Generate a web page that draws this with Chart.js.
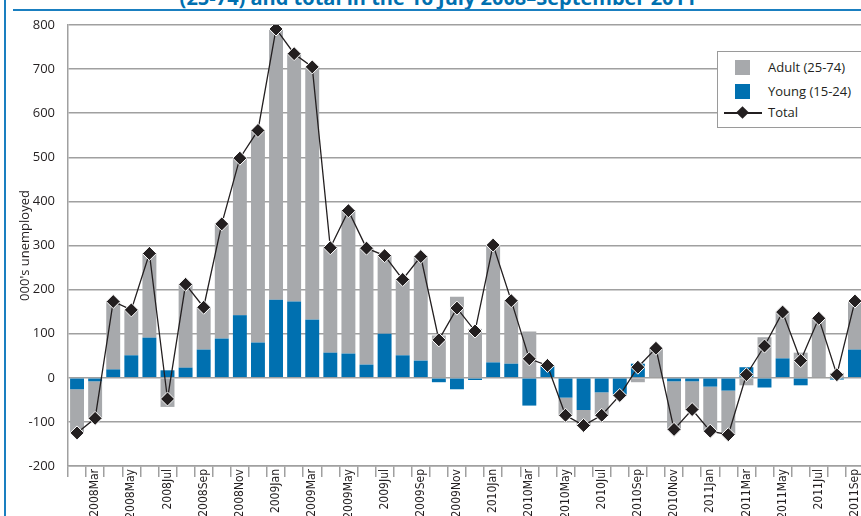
<!DOCTYPE html>
<html>
<head>
<meta charset="utf-8">
<script src="https://cdn.jsdelivr.net/npm/chart.js"></script>
<style>
  html, body { margin: 0; padding: 0; background: #fff; overflow: hidden; width: 861px; height: 516px; }
  #wrap { position: absolute; left: 0; top: 0; width: 880px; height: 526px; }
  #title { position: absolute; left: 0; width: 876px; top: -16px; text-align: center;
    font: bold 20px "Open Sans", sans-serif; color: #0070b0; white-space: nowrap; }
  #rule { position: absolute; left: 13px; right: 0; top: 9px; height: 2px; background: #1a7fc0; }
  #side { position: absolute; left: 4px; top: 0; bottom: 0; width: 2px; background: #1a7fc0; }
  #legend { position: absolute; left: 717px; top: 51px; width: 160px; height: 75px;
    background: #fff; border: 1px solid #9a9a9a; font: 13px "Open Sans", sans-serif; color: #231f20; }
  .row { position: absolute; left: 0; height: 18px; line-height: 18px; }
  .sw { position: absolute; left: 17px; top: 1px; width: 15px; height: 15px; }
  .lab { position: absolute; left: 50px; top: -1px; white-space: nowrap; }
  .ln { position: absolute; left: 6px; top: 8px; width: 38px; height: 1.5px; background: #231f20; }
  .dm { position: absolute; left: 20px; top: 4px; width: 9px; height: 9px; background: #231f20; transform: rotate(45deg); }
</style>
</head>
<body>
<div id="title">(25-74) and total in the 16 July 2008–September 2011</div>
<div id="rule"></div>
<div id="side"></div>
<div id="wrap"><canvas id="chart"></canvas></div>
<div id="legend">
  <div class="row" style="top:7px;width:160px"><div class="sw" style="background:#a7a9ac"></div><div class="lab">Adult (25-74)</div></div>
  <div class="row" style="top:31px;width:160px"><div class="sw" style="background:#0070b0"></div><div class="lab">Young (15-24)</div></div>
  <div class="row" style="top:52px;width:160px"><div class="ln"></div><div class="dm"></div><div class="lab">Total</div></div>
</div>
<script>
var months = ['2008Feb', '2008Mar', '2008Apr', '2008May', '2008Jun', '2008Jul', '2008Aug', '2008Sep', '2008Oct', '2008Nov', '2008Dec',
  '2009Jan', '2009Feb', '2009Mar', '2009Apr', '2009May', '2009Jun', '2009Jul', '2009Aug', '2009Sep', '2009Oct', '2009Nov', '2009Dec',
  '2010Jan', '2010Feb', '2010Mar', '2010Apr', '2010May', '2010Jun', '2010Jul', '2010Aug', '2010Sep', '2010Oct', '2010Nov', '2010Dec',
  '2011Jan', '2011Feb', '2011Mar', '2011Apr', '2011May', '2011Jun', '2011Jul', '2011Aug', '2011Sep'];

var young = [-26, -8, 19, 51, 91, 17, 23, 64, 89, 142, 80,
  177, 173, 132, 57, 55, 30, 100, 51, 39, -10, -26, -5,
  35, 32, -63, 26, -45, -73, -33, -38, 32, 0, -8, -8,
  -20, -29, 24, -22, 44, -17, 0, -4, 64];

var adult = [-99, -84, 154, 103, 191, -66, 189, 96, 260, 356, 481,
  614, 562, 573, 238, 324, 264, 177, 172, 236, 96, 184, 111,
  266, 143, 105, 2, -40, -35, -52, -2, -10, 67, -109, -64,
  -101, -100, -17, 92, 105, 57, 135, 11, 110];

var total = [-125, -92, 173, 154, 282, -48, 212, 160, 349, 498, 561,
  791, 735, 705, 295, 379, 294, 277, 223, 275, 86, 158, 106,
  301, 175, 43, 28, -85, -108, -85, -40, 24, 67, -117, -72,
  -121, -129, 7, 72, 149, 39, 135, 7, 174];

var yTicks = [-200, -100, 0, 100, 200, 300, 400, 500, 600, 700, 800];

var ctx = document.getElementById('chart').getContext('2d');

var chart = new Chart(ctx, {
  type: 'bar',
  data: {
    labels: months,
    datasets: [
      {
        label: 'Young (15-24)',
        data: young,
        backgroundColor: '#0070b0',
        barPercentage: 0.77,
        categoryPercentage: 1,
        order: 0
      },
      {
        label: 'Adult (25-74)',
        data: adult,
        backgroundColor: '#a7a9ac',
        barPercentage: 0.77,
        categoryPercentage: 1,
        order: 0
      },
      {
        type: 'line',
        label: 'Total',
        data: total,
        stack: 'total',
        borderColor: '#231f20',
        borderWidth: 1.3,
        pointStyle: 'rectRot',
        pointRadius: 7,
        pointBackgroundColor: '#231f20',
        pointBorderColor: '#ffffff',
        pointBorderWidth: 1,
        tension: 0,
        order: -1
      }
    ]
  },
  options: {
    responsive: true,
    maintainAspectRatio: false,
    animation: false,
    layout: { padding: { top: 25, right: 16, bottom: 0, left: 0 } },
    plugins: {
      legend: { display: false },
      tooltip: { enabled: false }
    },
    scales: {
      x: {
        stacked: true,
        afterFit: function (scale) { scale.height = 60; },
        border: { color: '#a0a0a0', width: 1.5 },
        grid: {
          offset: true,
          drawOnChartArea: false,
          drawTicks: true,
          tickLength: 11,
          color: '#a0a0a0',
          lineWidth: 1.5
        },
        ticks: {
          autoSkip: false,
          maxRotation: 90,
          minRotation: 90,
          padding: -8,
          color: '#231f20',
          font: { family: '"Liberation Sans Narrow", "DejaVu Sans Condensed", sans-serif', size: 12 },
          callback: function (v, i) { return i % 2 === 1 ? months[i] : ''; }
        }
      },
      y: {
        stacked: true,
        min: -200,
        max: 800,
        afterFit: function (scale) { scale.width = 68; },
        afterBuildTicks: function (scale) { scale.ticks = yTicks.map(function (v) { return { value: v }; }); },
        border: { color: '#a0a0a0', width: 1.5 },
        grid: {
          color: '#a0a0a0',
          lineWidth: 1.5,
          drawTicks: false
        },
        ticks: {
          padding: 13,
          color: '#231f20',
          font: { family: '"Open Sans", sans-serif', size: 13 }
        },
        title: {
          display: true,
          text: "000's unemployed",
          color: '#231f20',
          font: { family: '"Open Sans", sans-serif', size: 13 },
          padding: { top: 17, bottom: 0 }
        }
      }
    }
  }
});
</script>
</body>
</html>
